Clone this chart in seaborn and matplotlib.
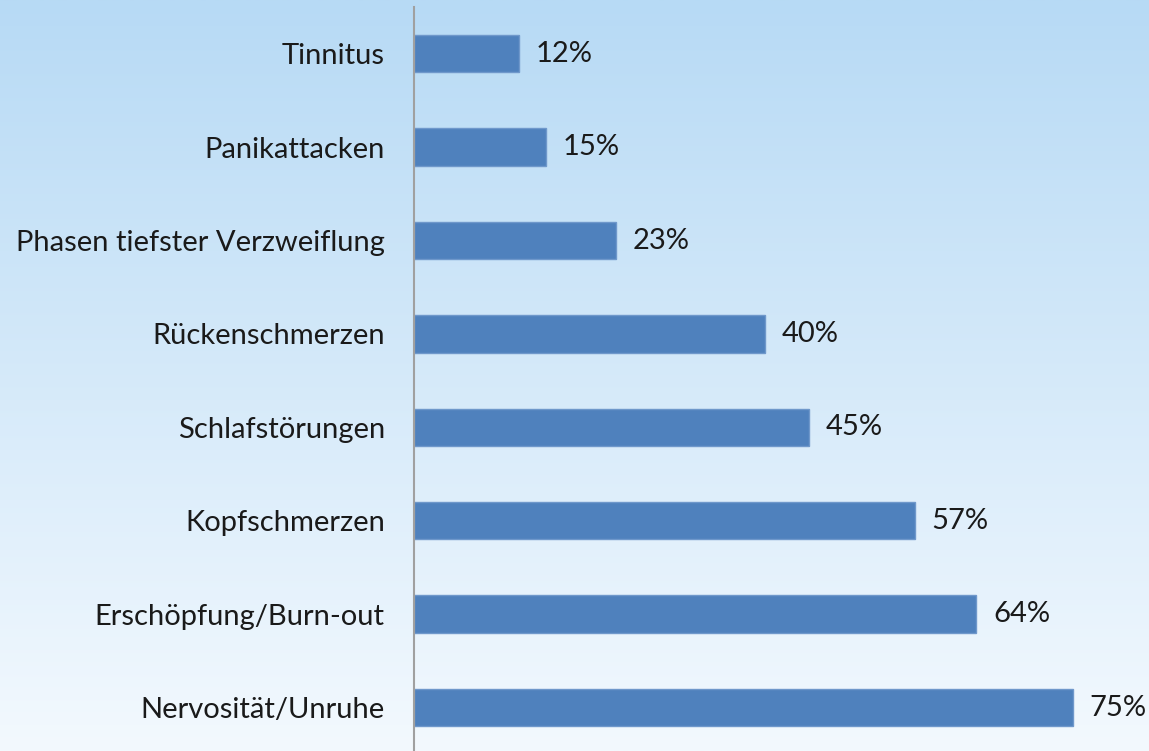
import numpy as np
import pandas as pd
import matplotlib
matplotlib.use("Agg")
import matplotlib.pyplot as plt
import seaborn as sns

categories = ["Tinnitus", "Panikattacken", "Phasen tiefster Verzweiflung",
              "Rückenschmerzen", "Schlafstörungen", "Kopfschmerzen",
              "Erschöpfung/Burn-out", "Nervosität/Unruhe"]
values = [12, 15, 23, 40, 45, 57, 64, 75]
value_labels = ["12%", "15%", "23%", "40%", "45%", "57%", "64%", "75%"]

sns.set_theme(style="white")
plt.rcParams['font.family'] = ['Lato', 'DejaVu Sans']

W, H = 1149, 751
fig = plt.figure(figsize=(W / 100, H / 100), dpi=100)

# gradient background
bg = fig.add_axes([0, 0, 1, 1], zorder=0)
top = np.array([0xB7, 0xDA, 0xF5]) / 255
bot = np.array([0xF3, 0xF9, 0xFE]) / 255
t = np.linspace(0, 1, 256)[:, None]
grad = top[None, :] * (1 - t) + bot[None, :] * t
bg.imshow(grad[:, None, :], aspect="auto", extent=[0, 1, 0, 1])
bg.set_axis_off()

left = 414 / W
right = 1.0
ax_top = 7
step = 93.4
ax_bottom = ax_top + 8 * step
ax = fig.add_axes([left, 1 - ax_bottom / H, right - left, (ax_bottom - ax_top) / H], zorder=1)
ax.patch.set_alpha(0)

df = pd.DataFrame({"cat": categories, "val": values})
sns.barplot(data=df, y="cat", x="val", orient="h", color="#4F81BD",
            saturation=1, width=0.40, edgecolor="#6F98CB", linewidth=1, ax=ax)

ax.set_xlim(0, 735 / (659 / 75))
ax.set_ylim(7.5, -0.5)
for i, (v, lab) in enumerate(zip(values, value_labels)):
    ax.annotate(lab, (v, i), xytext=(12, 0), textcoords="offset points",
                ha="left", va="center", fontsize=21, color="#1a1a1a")

ax.set_xlabel("")
ax.set_ylabel("")
ax.set_xticks([])
ax.tick_params(axis="y", length=0, pad=21, labelsize=21, labelcolor="#1a1a1a")
for s in ["top", "right", "bottom"]:
    ax.spines[s].set_visible(False)
ax.spines["left"].set_color("#A0A0A0")
ax.spines["left"].set_linewidth(1.5)

fig.savefig("out.png", dpi=100)
